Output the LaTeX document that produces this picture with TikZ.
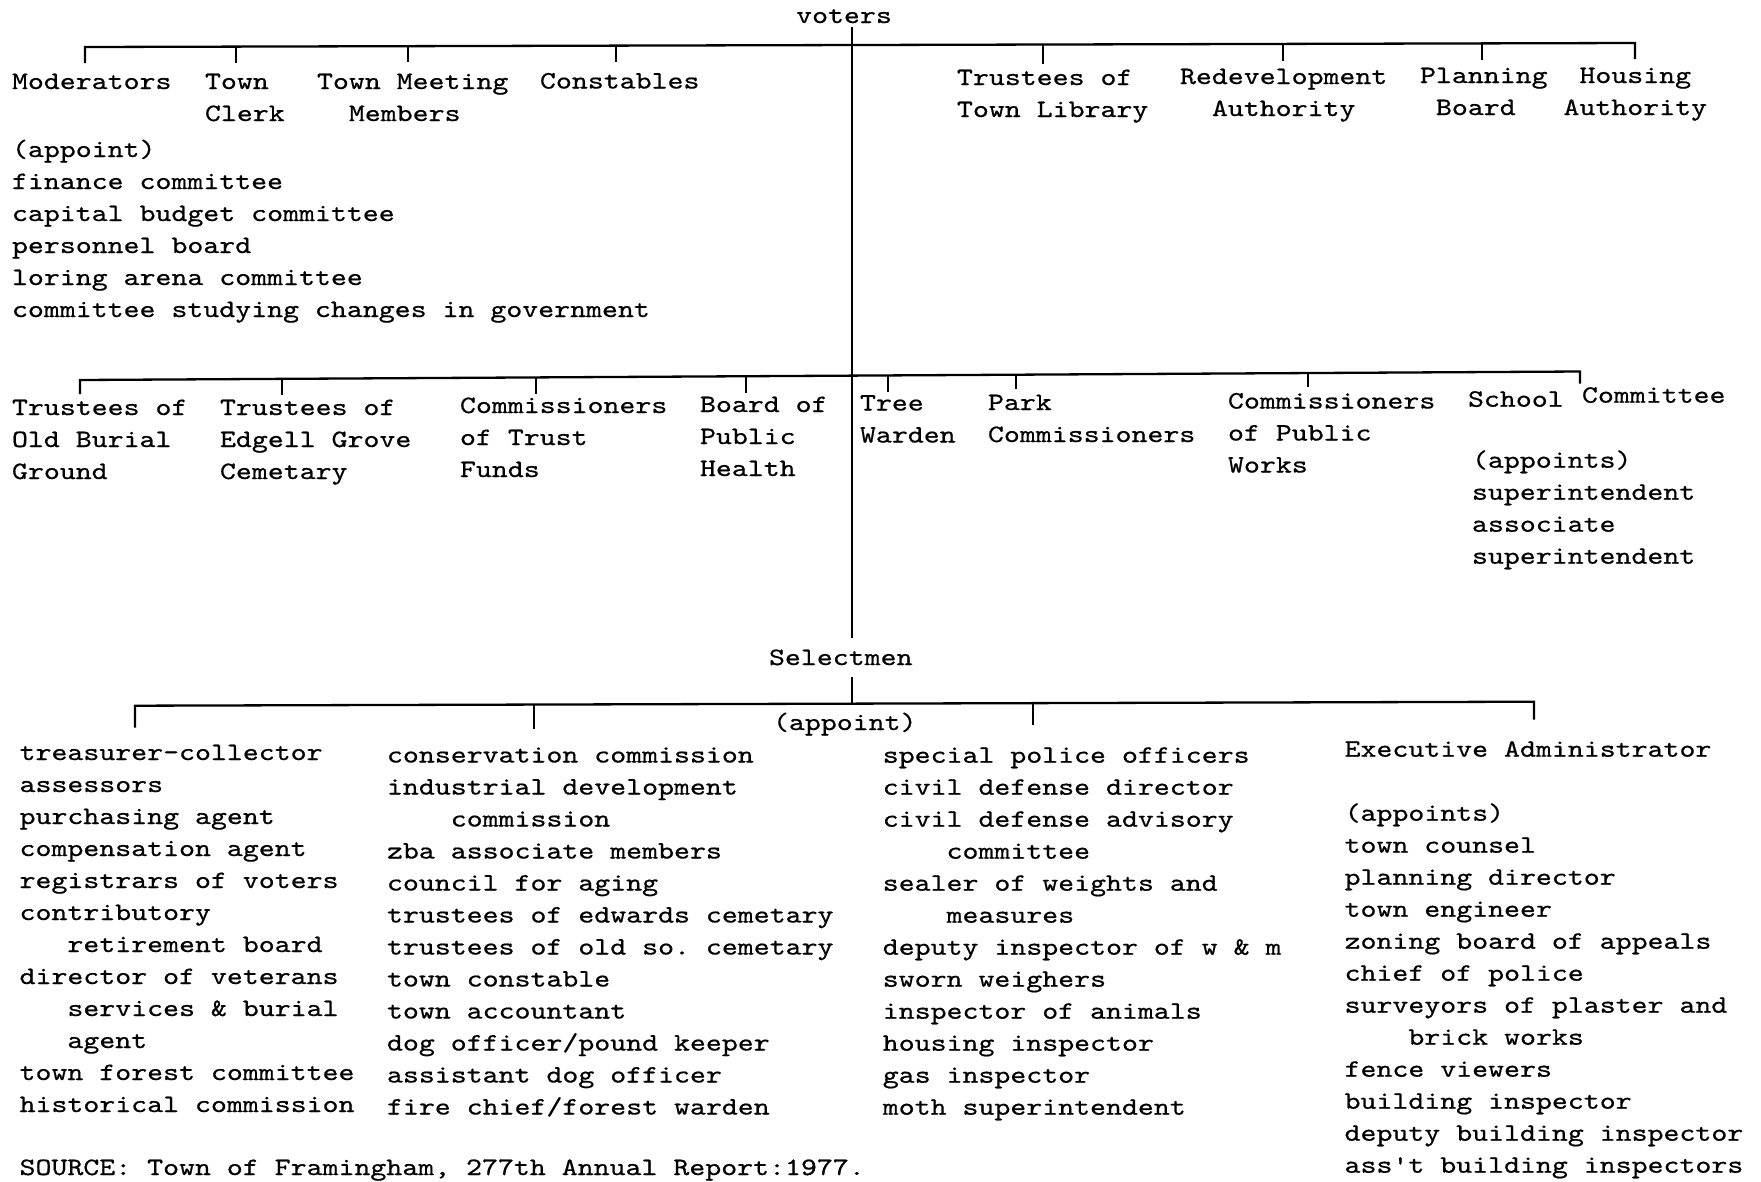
\documentclass[tikz,border=0pt]{standalone}
\usepackage{fontspec}
% typewriter face, widened to a Courier-like pitch
\setmonofont{lmmono10-regular.otf}[FakeStretch=1.215,FakeBold=0.6]
% indent by a number of character cells
\newcommand\ind[1]{\hspace*{#1\fontcharwd\font120\relax}}

\begin{document}
\begin{tikzpicture}[x=1pt,y=-1pt,
  every node/.style={inner sep=0pt,outer sep=0pt},
  txt/.style={font=\ttfamily\fontsize{25}{32}\selectfont},
  lbl/.style={txt,align=left,anchor=north west,yshift=22.4pt},
  link/.style={line width=2.3pt,line join=miter}]

\useasboundingbox (0,0) rectangle (1761,1181);
\fill[white] (0,0) rectangle (1761,1181);
\clip (0,0) rectangle (1761,1181);

% ---------- voters and the elected offices ----------
\node[txt,anchor=base] (voters) at (844,23) {voters};

\node[lbl] (mod)    at (12,89)    {\strut Moderators};
\node[lbl] (clerk)  at (205,89)   {\strut Town\\Clerk};
\node[lbl] (tmm)    at (317,89)   {\strut Town Meeting\\\ind{2}Members};
\node[lbl] (const)  at (540,88.5) {\strut Constables};
\node[lbl] (modapp) at (12,157)   {\strut (appoint)\\finance committee\\capital budget committee\\personnel board\\loring arena committee\\committee studying changes in government};

\node[lbl] (lib)     at (957,85)    {\strut Trustees of\\Town Library};
\node[lbl] (redev)   at (1180,84)   {\strut Redevelopment\\\ind{2}Authority};
\node[lbl] (plan)    at (1420,83)   {\strut Planning\\\ind{1}Board};
\node[lbl] (housing) at (1563.5,83) {\strut\ind{1}Housing\\Authority};

% ---------- boards and commissions ----------
\node[lbl] (burial) at (12,415)    {\strut Trustees of\\Old Burial\\Ground};
\node[lbl] (edgell) at (220,415)   {\strut Trustees of\\Edgell Grove\\Cemetary};
\node[lbl] (trust)  at (460,413)   {\strut Commissioners\\of Trust\\Funds};
\node[lbl] (health) at (700,412)   {\strut Board of\\Public\\Health};
\node[lbl] (tree)   at (860,410.5) {\strut Tree\\Warden};
\node[lbl] (park)   at (988,410)   {\strut Park\\Commissioners};
\node[lbl] (cpw)    at (1228,408.5){\strut Commissioners\\of Public\\Works};
\node[lbl] (school) at (1468,406.7){\strut School};
\node[lbl] (comm)   at (1582,402.7){\strut Committee};
\node[lbl] (schapp) at (1472,467.7){\strut (appoints)\\superintendent\\associate\\superintendent};

% ---------- selectmen and their appointments ----------
\node[lbl] (select) at (769,665) {\strut Selectmen};
\node[lbl] (selapp) at (773,730) {\strut (appoint)};

\node[lbl] (colA) at (19.6,760) {\strut treasurer-collector\\assessors\\purchasing agent\\compensation agent\\registrars of voters\\contributory\\\ind{3}retirement board\\director of veterans\\\ind{3}services \& burial\\\ind{3}agent\\town forest committee\\historical commission};
\node[lbl] (colB) at (387,762.5) {\strut conservation commission\\industrial development\\\ind{4}commission\\zba associate members\\council for aging\\trustees of edwards cemetary\\trustees of old so. cemetary\\town constable\\town accountant\\dog officer/pound keeper\\assistant dog officer\\fire chief/forest warden};
\node[lbl] (colC) at (882.8,762.7) {\strut special police officers\\civil defense director\\civil defense advisory\\\ind{4}committee\\sealer of weights and\\\ind{4}measures\\deputy inspector of w \& m\\sworn weighers\\inspector of animals\\housing inspector\\gas inspector\\moth superintendent};
\node[lbl] (colD) at (1344.6,756.7) {\strut Executive Administrator\\\strut\\(appoints)\\town counsel\\planning director\\town engineer\\zoning board of appeals\\chief of police\\surveyors of plaster and\\\ind{4}brick works\\fence viewers\\building inspector\\deputy building inspector\\ass't building inspectors};

\node[lbl] (source) at (19.6,1175) {\strut SOURCE: Town of Framingham, 277th Annual Report:1977.};

% ---------- connectors ----------
\coordinate (trunkTop) at (852,27);
\coordinate (trunkBot) at (852,638);
\draw[link] (trunkTop) -- (trunkBot);

% upper bus with its drops
\coordinate (busAL) at (85,47);
\coordinate (busAR) at (1635,43);
\draw[link] ([yshift=-16pt]busAL) -- (busAL) -- (busAR) -- ([yshift=-16pt]busAR);
\foreach \nm/\x/\ya/\yb in {dClerk/236/46.6/63, dTmm/408/46.2/62, dConst/616/45.6/62,
                            dLib/1043/44.5/64, dRedev/1283/43.9/61, dPlan/1482/43.4/60}{
  \coordinate (\nm) at (\x,\yb);
  \draw[link] (\x,\ya) -- (\nm);
}

% middle bus with its drops
\coordinate (busBL) at (80,380);
\coordinate (busBR) at (1580,371.5);
\draw[link] ([yshift=-14pt]busBL) -- (busBL) -- (busBR) -- ([yshift=-12pt]busBR);
\foreach \nm/\x/\ya/\yb in {dEdgell/282/378.9/395, dTrust/536/377.4/394, dHealth/746/376.2/392.7,
                            dTree/888/375.4/391.7, dPark/1016/374.7/389, dCpw/1308/373/386.7}{
  \coordinate (\nm) at (\x,\yb);
  \draw[link] (\x,\ya) -- (\nm);
}

% selectmen bus with its drops
\coordinate (stubTop) at (852,677);
\coordinate (busCL) at (135,705.7);
\coordinate (busCR) at (1534,701.7);
\draw[link] (stubTop) -- (852,703.6);
\draw[link] ([yshift=-22pt]busCL) -- (busCL) -- (busCR) -- ([yshift=-18pt]busCR);
\foreach \nm/\x/\ya/\yb in {dColB/534/704.6/729, dColC/1033/703.1/725}{
  \coordinate (\nm) at (\x,\yb);
  \draw[link] (\x,\ya) -- (\nm);
}
\end{tikzpicture}
\end{document}
